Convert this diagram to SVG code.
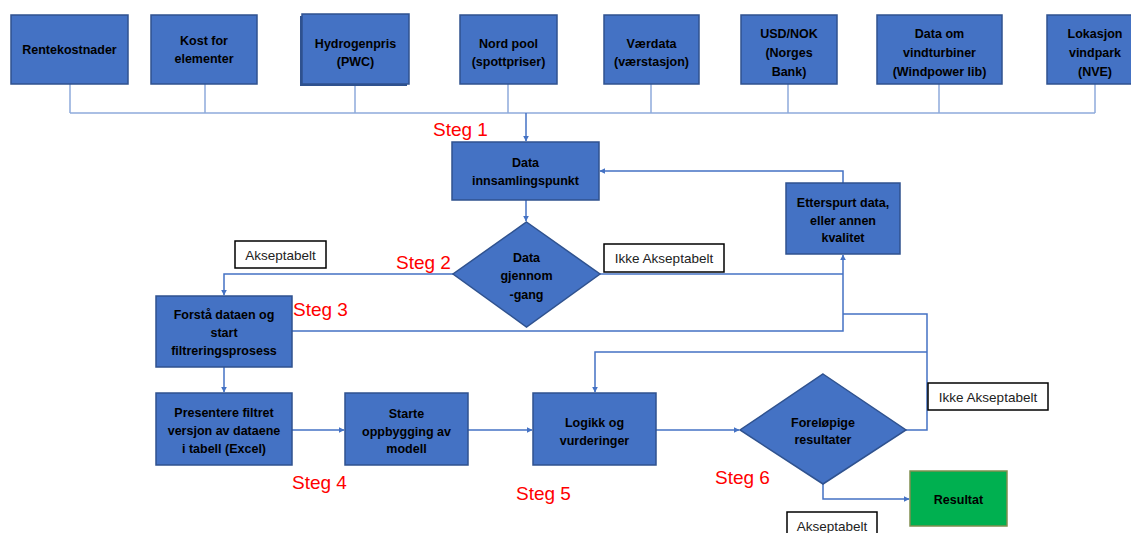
<svg xmlns="http://www.w3.org/2000/svg" width="1131" height="533" viewBox="0 0 1131 533">
<style>
.box{fill:#4472C4;stroke:#2F528F;stroke-width:1.5}
.res{fill:#00B050;stroke:#7F8F4F;stroke-width:1.5}
.lbl{fill:#FFFFFF;stroke:#000000;stroke-width:1.5}
.t{font-family:"Liberation Sans",Arial,sans-serif;font-weight:bold;font-size:12.5px;fill:#000;text-anchor:middle}
.lt{font-family:"Liberation Sans",Arial,sans-serif;font-size:13.5px;fill:#222;text-anchor:middle}
.steg{font-family:"Liberation Sans",Arial,sans-serif;font-size:19px;fill:#FF0000}
.c{fill:none;stroke:#4472C4;stroke-width:1.5}
.ct{fill:none;stroke:#8EAADB;stroke-width:1.5}
</style>
<defs>
<marker id="arr" viewBox="0 0 10 10" refX="9" refY="5" markerWidth="6" markerHeight="6" orient="auto" markerUnits="userSpaceOnUse">
<path d="M0,0 L10,5 L0,10 z" fill="#4472C4"/>
</marker>
</defs>
<rect width="1131" height="533" fill="#FFFFFF"/>

<g id="connectors">
<path class="ct" d="M70 84 V113 M205 84 V113 M355 84 V113 M508 84 V113 M651 84 V113 M788 84 V113 M939 84 V113 M1095 84 V113 M70 113 H1095"/>
<path class="c" d="M526 113 V141" marker-end="url(#arr)"/>
<path class="c" d="M526 200 V221" marker-end="url(#arr)"/>
<path class="c" d="M453 274 H224 V295" marker-end="url(#arr)"/>
<path class="c" d="M600 274 H843"/>
<path class="c" d="M292 331 H843 V255" marker-end="url(#arr)"/>
<path class="c" d="M843 183 V171 H600" marker-end="url(#arr)"/>
<path class="c" d="M224 367 V392" marker-end="url(#arr)"/>
<path class="c" d="M292 430 H344" marker-end="url(#arr)"/>
<path class="c" d="M468 430 H532" marker-end="url(#arr)"/>
<path class="c" d="M656 430 H739" marker-end="url(#arr)"/>
<path class="c" d="M906 430 H927 V314 H843"/>
<path class="c" d="M927 352 H595 V392" marker-end="url(#arr)"/>
<path class="c" d="M823 484 V499 H909" marker-end="url(#arr)"/>
</g>

<g id="n-rentekostnader">
<rect class="box" x="11" y="15" width="117" height="69"/>
<text class="t" x="69.5" y="54">Rentekostnader</text>
</g>
<g id="n-kost">
<rect class="box" x="151" y="15" width="106" height="69"/>
<text class="t" x="204" y="45">Kost for</text>
<text class="t" x="204" y="63">elementer</text>
</g>
<g id="n-hydrogen">
<rect x="300" y="16" width="107" height="70" fill="#2F528F"/>
<rect class="box" x="302" y="14" width="107" height="70"/>
<text class="t" x="355.5" y="48">Hydrogenpris</text>
<text class="t" x="355.5" y="66">(PWC)</text>
</g>
<g id="n-nordpool">
<rect class="box" x="460" y="15" width="97" height="69"/>
<text class="t" x="508.5" y="48">Nord pool</text>
<text class="t" x="508.5" y="66">(spottpriser)</text>
</g>
<g id="n-vaerdata">
<rect class="box" x="604" y="15" width="95" height="69"/>
<text class="t" x="651.5" y="48">Værdata</text>
<text class="t" x="651.5" y="66">(værstasjon)</text>
</g>
<g id="n-usdnok">
<rect class="box" x="741" y="15" width="96" height="69"/>
<text class="t" x="789" y="38">USD/NOK</text>
<text class="t" x="789" y="57">(Norges</text>
<text class="t" x="789" y="76">Bank)</text>
</g>
<g id="n-vindturbiner">
<rect class="box" x="877" y="15" width="125" height="69"/>
<text class="t" x="939.5" y="38">Data om</text>
<text class="t" x="939.5" y="57">vindturbiner</text>
<text class="t" x="939.5" y="76">(Windpower lib)</text>
</g>
<g id="n-lokasjon">
<rect class="box" x="1047" y="15" width="100" height="69"/>
<text class="t" x="1095" y="38">Lokasjon</text>
<text class="t" x="1095" y="57">vindpark</text>
<text class="t" x="1095" y="76">(NVE)</text>
</g>

<g id="n-innsamling">
<rect class="box" x="452" y="142" width="147" height="58"/>
<text class="t" x="525.5" y="167">Data</text>
<text class="t" x="525.5" y="185">innsamlingspunkt</text>
</g>
<g id="n-gjennomgang">
<polygon class="box" points="526.5,222 600,274 526.5,327 453,274"/>
<text class="t" x="526.5" y="262">Data</text>
<text class="t" x="526.5" y="280">gjennom</text>
<text class="t" x="526.5" y="299">-gang</text>
</g>
<g id="n-etterspurt">
<rect class="box" x="786" y="183" width="114" height="71"/>
<text class="t" x="843" y="207">Etterspurt data,</text>
<text class="t" x="843" y="225">eller annen</text>
<text class="t" x="843" y="242">kvalitet</text>
</g>
<g id="n-forsta">
<rect class="box" x="156" y="296" width="136" height="71"/>
<text class="t" x="224" y="319">Forstå dataen og</text>
<text class="t" x="224" y="337">start</text>
<text class="t" x="224" y="355">filtreringsprosess</text>
</g>
<g id="n-presentere">
<rect class="box" x="156" y="393" width="136" height="72"/>
<text class="t" x="224" y="417">Presentere filtret</text>
<text class="t" x="224" y="435">versjon av dataene</text>
<text class="t" x="224" y="453">i tabell (Excel)</text>
</g>
<g id="n-starte">
<rect class="box" x="345" y="393" width="123" height="72"/>
<text class="t" x="406.5" y="418">Starte</text>
<text class="t" x="406.5" y="436">oppbygging av</text>
<text class="t" x="406.5" y="453">modell</text>
</g>
<g id="n-logikk">
<rect class="box" x="533" y="393" width="123" height="72"/>
<text class="t" x="594.5" y="427">Logikk og</text>
<text class="t" x="594.5" y="445">vurderinger</text>
</g>
<g id="n-forelopige">
<polygon class="box" points="823,374 906,430 823,484 740,430"/>
<text class="t" x="823" y="427">Foreløpige</text>
<text class="t" x="823" y="444">resultater</text>
</g>
<g id="n-resultat">
<rect class="res" x="910" y="471" width="97" height="55"/>
<text class="t" x="958.5" y="504">Resultat</text>
</g>

<g id="labels">
<rect class="lbl" x="235" y="241" width="91" height="27"/>
<text class="lt" x="280.5" y="259.5">Akseptabelt</text>
<rect class="lbl" x="604" y="244" width="120" height="28"/>
<text class="lt" x="664" y="263">Ikke Akseptabelt</text>
<rect class="lbl" x="928" y="383" width="120" height="27"/>
<text class="lt" x="988" y="401.5">Ikke Akseptabelt</text>
<rect class="lbl" x="787" y="512" width="90" height="30"/>
<text class="lt" x="832" y="531">Akseptabelt</text>
</g>

<g id="steps">
<text class="steg" x="433" y="136">Steg 1</text>
<text class="steg" x="396" y="269">Steg 2</text>
<text class="steg" x="293" y="316">Steg 3</text>
<text class="steg" x="292" y="489">Steg 4</text>
<text class="steg" x="516" y="500">Steg 5</text>
<text class="steg" x="715" y="484">Steg 6</text>
</g>
</svg>
